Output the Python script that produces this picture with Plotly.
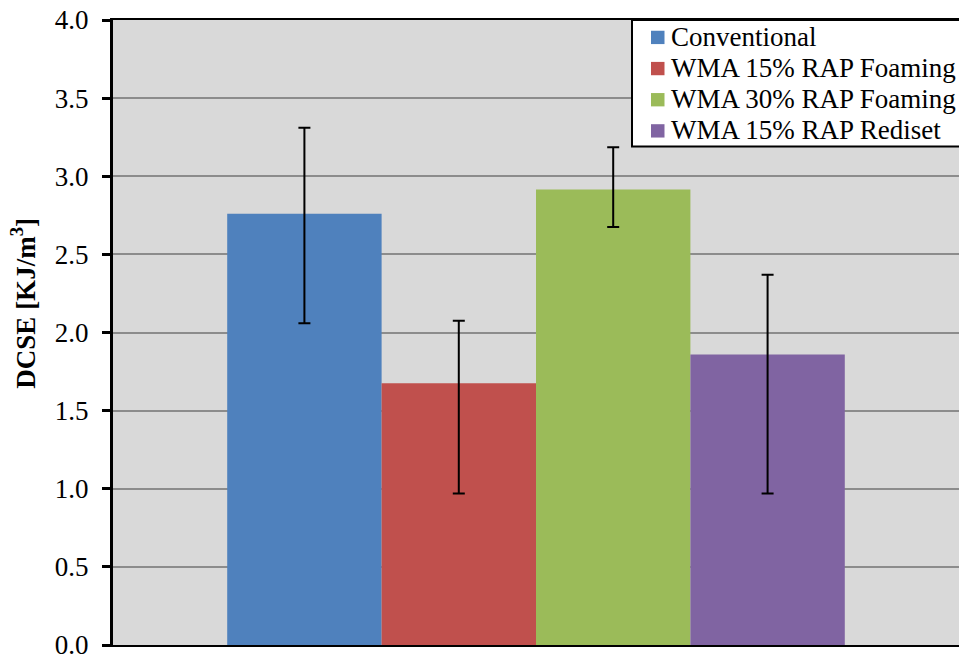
import plotly.graph_objects as go

series = ["Conventional", "WMA 15% RAP Foaming", "WMA 30% RAP Foaming", "WMA 15% RAP Rediset"]
values = [2.76, 1.675, 2.915, 1.86]
err_plus = [0.55, 0.40, 0.27, 0.51]
err_minus = [0.70, 0.705, 0.24, 0.89]
colors = ["#4f81bd", "#c0504d", "#9bbb59", "#8064a2"]
y_ticks = [0.0, 0.5, 1.0, 1.5, 2.0, 2.5, 3.0, 3.5, 4.0]
y_title = "<b>DCSE [KJ/m<sup>3</sup>]</b>"

FONT = "'Liberation Serif', 'Times New Roman', Times, serif"
FS = 27

# pixel layout helpers (plot area in figure pixels)
PL, PR, PT, PB = 113, 959, 20, 648
def px(p):
    return (p - PL) / (PR - PL)
def py(q):
    return (PB - q) / (PB - PT)

fig = go.Figure()
for name, v, ep, em, c in zip(series, values, err_plus, err_minus, colors):
    fig.add_trace(go.Bar(
        x=[""], y=[v], name=name, showlegend=False,
        marker=dict(color=c, line=dict(width=0)),
        error_y=dict(type="data", array=[ep], arrayminus=[em], symmetric=False,
                     color="black", thickness=2, width=6),
    ))

shapes = [dict(type="rect", xref="paper", yref="paper",
               x0=px(632), x1=px(975), y0=py(147), y1=py(20),
               fillcolor="white", line=dict(color="black", width=2), layer="above")]
annotations = []
row_y = [37.0, 68.3, 99.6, 130.9]
for name, c, ry in zip(series, colors, row_y):
    shapes.append(dict(type="rect", xref="paper", yref="paper",
                       x0=px(651), x1=px(664.5), y0=py(ry + 7.2), y1=py(ry - 6.2),
                       fillcolor=c, line=dict(width=0), layer="above"))
    annotations.append(dict(text=name, xref="paper", yref="paper",
                            x=px(669), y=py(ry), xanchor="left", yanchor="middle",
                            showarrow=False, font=dict(family=FONT, size=FS, color="black")))
annotations.append(dict(text=y_title, xref="paper", yref="paper",
                        x=px(23), y=py(305), xanchor="center", yanchor="middle",
                        textangle=-90, showarrow=False,
                        font=dict(family=FONT, size=FS, color="black")))

fig.update_layout(
    width=959, height=660,
    margin=dict(l=PL, r=959 - PR, t=PT, b=660 - PB),
    paper_bgcolor="white", plot_bgcolor="#d9d9d9",
    barmode="group", bargap=0.27, bargroupgap=0,
    font=dict(family=FONT, size=FS, color="black"),
    showlegend=False,
    shapes=shapes, annotations=annotations,
    xaxis=dict(showticklabels=False, ticks="", showgrid=False, showline=True,
               linecolor="black", linewidth=2, mirror=True, zeroline=False),
    yaxis=dict(range=[0, 4], tickvals=y_ticks, ticktext=[f"{t:.1f}" for t in y_ticks],
               showgrid=True, gridcolor="#8c8c8c", gridwidth=2, zeroline=False,
               showline=True, linecolor="black", linewidth=3,
               ticks="outside", ticklen=8, tickwidth=3, tickcolor="black",
               ticklabelstandoff=8, ticklabeloverflow="allow",
               tickfont=dict(family=FONT, size=FS)),
)

fig.write_html(
    "out.html",
    config={"displayModeBar": False},
    post_script="document.body.style.margin='0';document.body.style.overflow='hidden';",
)
